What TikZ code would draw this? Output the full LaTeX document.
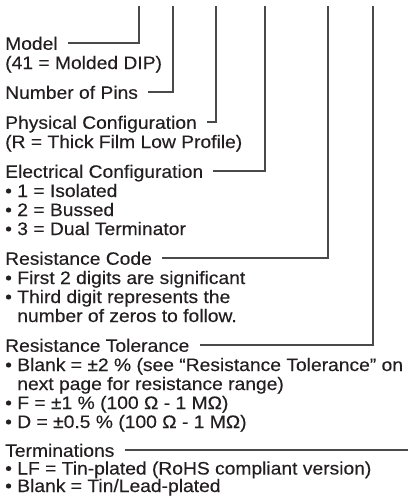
\documentclass[tikz,border=0pt]{standalone}
\usepackage{fontspec}
\setmainfont[FakeStretch=1.07,FakeBold=0.25]{Liberation Sans}
\definecolor{txt}{HTML}{231F20}
\definecolor{ln}{HTML}{4A4A4A}
\begin{document}
\begin{tikzpicture}[x=1pt,y=-1pt,
  lbl/.style={anchor=base west, inner sep=0pt, font=\fontsize{18}{19}\selectfont, text=txt},
  head/.style={lbl, anchor=south west, text height=13.5pt, text depth=0pt},
  conn/.style={draw=ln, line width=1.3pt}]
\useasboundingbox (0,0) rectangle (408,496);
\fill[white] (0,0) rectangle (408,496);
% tops of the leader lines
\coordinate (t1) at (139,6);
\coordinate (t2) at (173,6);
\coordinate (t3) at (216,6);
\coordinate (t4) at (265,6);
\coordinate (t5) at (328,6);
\coordinate (t6) at (373,6);
\coordinate (tend) at (408,0);
% texts
\node[head] (model) at (5,50) {Model};
\node[lbl] (model1) at (5,69) {(41 = Molded DIP)};
\node[head] (pins) at (5,99) {Number of Pins};
\node[head] (phys) at (5,129) {Physical Configuration};
\node[lbl] (phys1) at (5,148) {(R = Thick Film Low Profile)};
\node[head] (elec) at (5,178) {Electrical Configuration};
\node[lbl] (elec1) at (5,197) {• 1 = Isolated};
\node[lbl] (elec2) at (5,216) {• 2 = Bussed};
\node[lbl] (elec3) at (5,235) {• 3 = Dual Terminator};
\node[head] (code) at (5,265) {Resistance Code};
\node[lbl] (code1) at (5,284) {• First 2 digits are significant};
\node[lbl] (code2) at (5,303) {• Third digit represents the};
\node[lbl] (code3) at (5,322) {\hphantom{• }number of zeros to follow.};
\node[head] (tol) at (5,352) {Resistance Tolerance};
\node[lbl] (tol1) at (5,371) {• Blank = ±2 \% (see “Resistance Tolerance” on};
\node[lbl] (tol2) at (5,390) {\hphantom{• }next page for resistance range)};
\node[lbl] (tol3) at (5,409) {• F = ±1 \% (100 Ω - 1 MΩ)};
\node[lbl] (tol4) at (5,428) {• D = ±0.5 \% (100 Ω - 1 MΩ)};
\node[head] (term) at (5,457) {Terminations};
\node[lbl] (term1) at (5,474.5) {• LF = Tin-plated (RoHS compliant version)};
\node[lbl] (term2) at (5,492) {• Blank = Tin/Lead-plated};
% leaders
\draw[conn] ([xshift=10pt]model.east) -| (t1);
\draw[conn] ([xshift=10pt]pins.east) -| (t2);
\draw[conn] ([xshift=10pt]phys.east) -| (t3);
\draw[conn] ([xshift=10pt]elec.east) -| (t4);
\draw[conn] ([xshift=10pt]code.east) -| (t5);
\draw[conn] ([xshift=10pt]tol.east) -| (t6);
\draw[conn] ([xshift=10pt]term.east) -- (term.east -| tend);
\end{tikzpicture}
\end{document}
